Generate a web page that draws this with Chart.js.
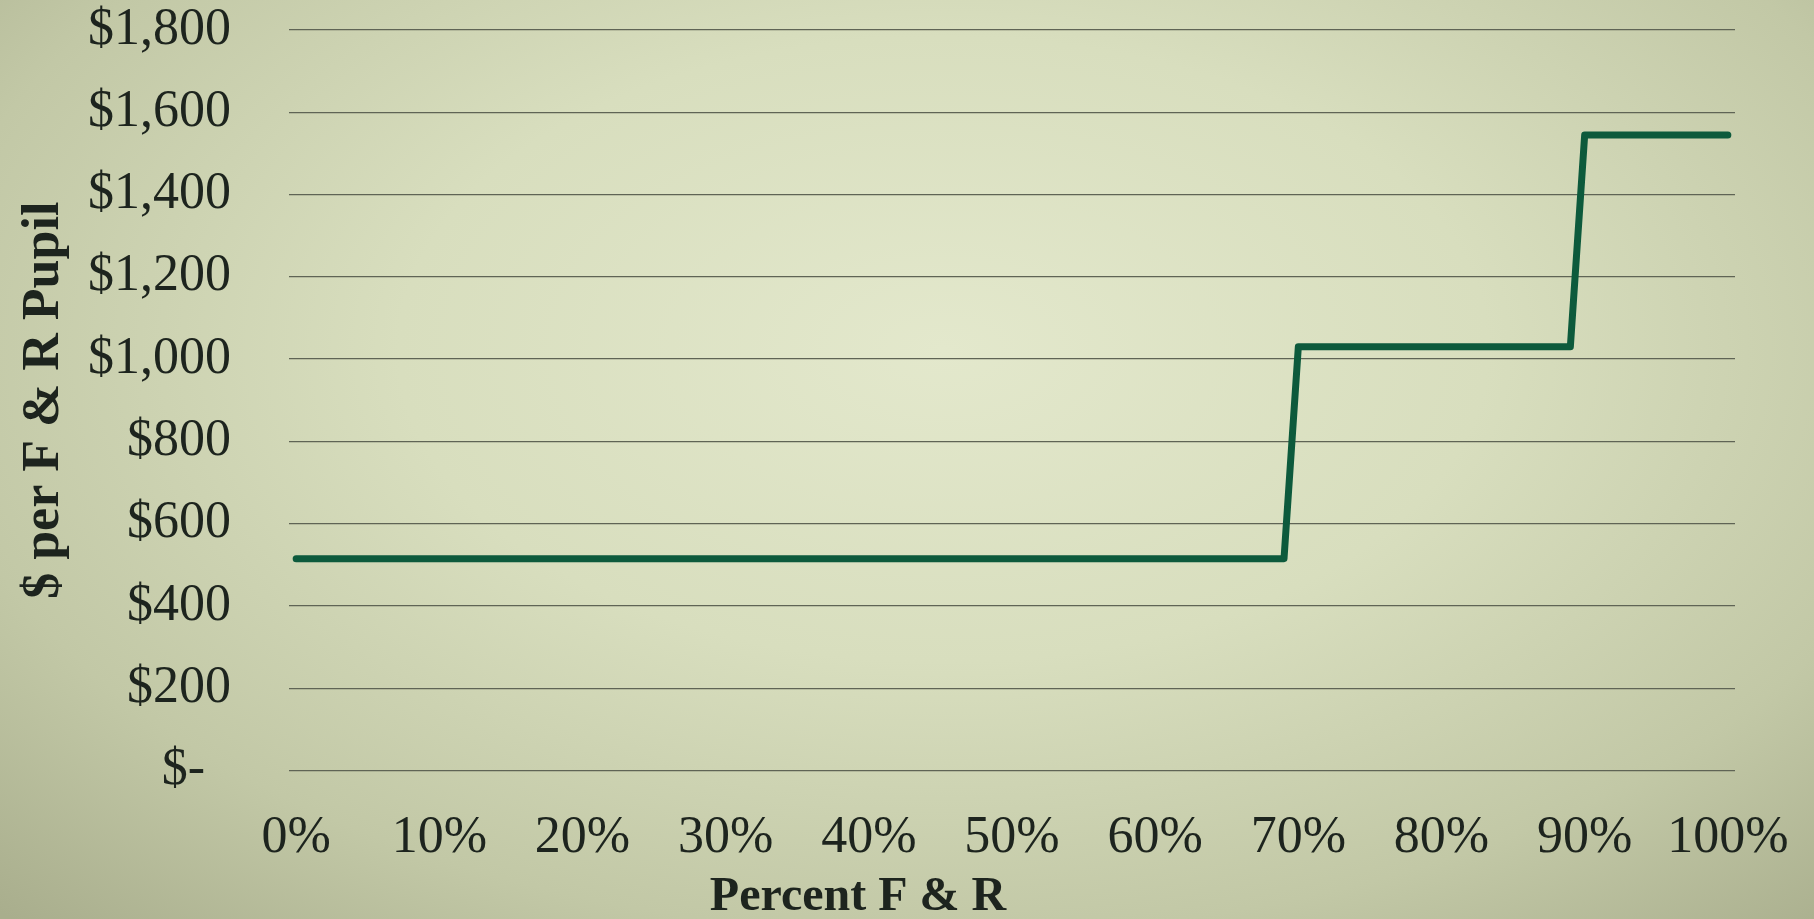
<!DOCTYPE html>
<html>
<head>
<meta charset="utf-8">
<script src="https://cdn.jsdelivr.net/npm/chart.js@4.4.1/dist/chart.umd.min.js"></script>
<style>
    html, body { margin: 0; padding: 0; }
    body {
        width: 1814px; height: 919px; overflow: hidden;
        background: radial-gradient(ellipse 75% 85% at 52% 38%, #e3e8cc 0%, #d8debe 40%, #c2c8a6 75%, #a9ae8d 100%);
    }
    #wrap { position: relative; width: 1814px; height: 919px; }
</style>
</head>
<body>
<div id="wrap"><canvas id="stepChart"></canvas></div>
<script>
// Step points (percent F & R -> $ per F & R pupil)
const pctPoints = [0, 69, 70, 89, 90, 100];
const dollarValues = [515, 515, 1030, 1030, 1545, 1545];
const xTickValues = [0, 10, 20, 30, 40, 50, 60, 70, 80, 90, 100];
const yTickValues = [0, 200, 400, 600, 800, 1000, 1200, 1400, 1600, 1800];

const ink = '#1d241e';
const serif = "'Liberation Serif', 'Times New Roman', serif";

const fmtDollar = v => v === 0 ? '$-  ' : '$' + v.toLocaleString('en-US');

// x-axis title sits left of the plot centre in the original
const xTitlePlugin = {
    id: 'xTitle',
    afterDraw(chart) {
        const c = chart.ctx;
        c.save();
        c.font = "bold 48px " + serif;
        c.fillStyle = ink;
        c.textAlign = 'center';
        c.textBaseline = 'alphabetic';
        c.fillText('Percent F & R', 858, 910);
        c.restore();
    }
};

const noPad = s => { s.paddingTop = 0; s.paddingBottom = 0; s.paddingLeft = 0; s.paddingRight = 0; };

new Chart(document.getElementById('stepChart'), {
    type: 'line',
    data: {
        datasets: [{
            data: pctPoints.map((p, i) => ({ x: p, y: dollarValues[i] })),
            borderColor: '#0d5a3c',
            borderWidth: 7,
            borderCapStyle: 'round',
            borderJoinStyle: 'round',
            pointRadius: 0,
            tension: 0,
            fill: false
        }]
    },
    options: {
        responsive: true,
        maintainAspectRatio: false,
        animation: false,
        layout: { padding: { top: 30, right: 79, left: 0, bottom: 0 } },
        plugins: { legend: { display: false }, tooltip: { enabled: false } },
        scales: {
            x: {
                type: 'linear',
                min: -0.5,
                max: 100.5,
                afterBuildTicks: s => { s.ticks = xTickValues.map(v => ({ value: v })); },
                afterFit: s => { s.height = 919 - 770.5; noPad(s); },
                grid: { display: false },
                border: { display: false },
                ticks: {
                    color: ink,
                    font: { family: serif, size: 52 },
                    padding: 29,
                    maxRotation: 0,
                    callback: v => v + '%'
                }
            },
            y: {
                min: 0,
                max: 1800,
                afterBuildTicks: s => { s.ticks = yTickValues.map(v => ({ value: v })); },
                afterFit: s => { s.width = 289; noPad(s); },
                grid: { color: '#5f6455', lineWidth: 1.3, drawTicks: false },
                border: { display: false },
                ticks: {
                    color: ink,
                    font: { family: serif, size: 52 },
                    padding: 58,
                    callback: v => fmtDollar(v)
                },
                title: {
                    display: true,
                    text: '$ per F & R Pupil',
                    color: ink,
                    font: { family: serif, size: 52, weight: 'bold' },
                    padding: { top: 13, bottom: 0 }
                }
            }
        }
    },
    plugins: [xTitlePlugin]
});
</script>
</body>
</html>
